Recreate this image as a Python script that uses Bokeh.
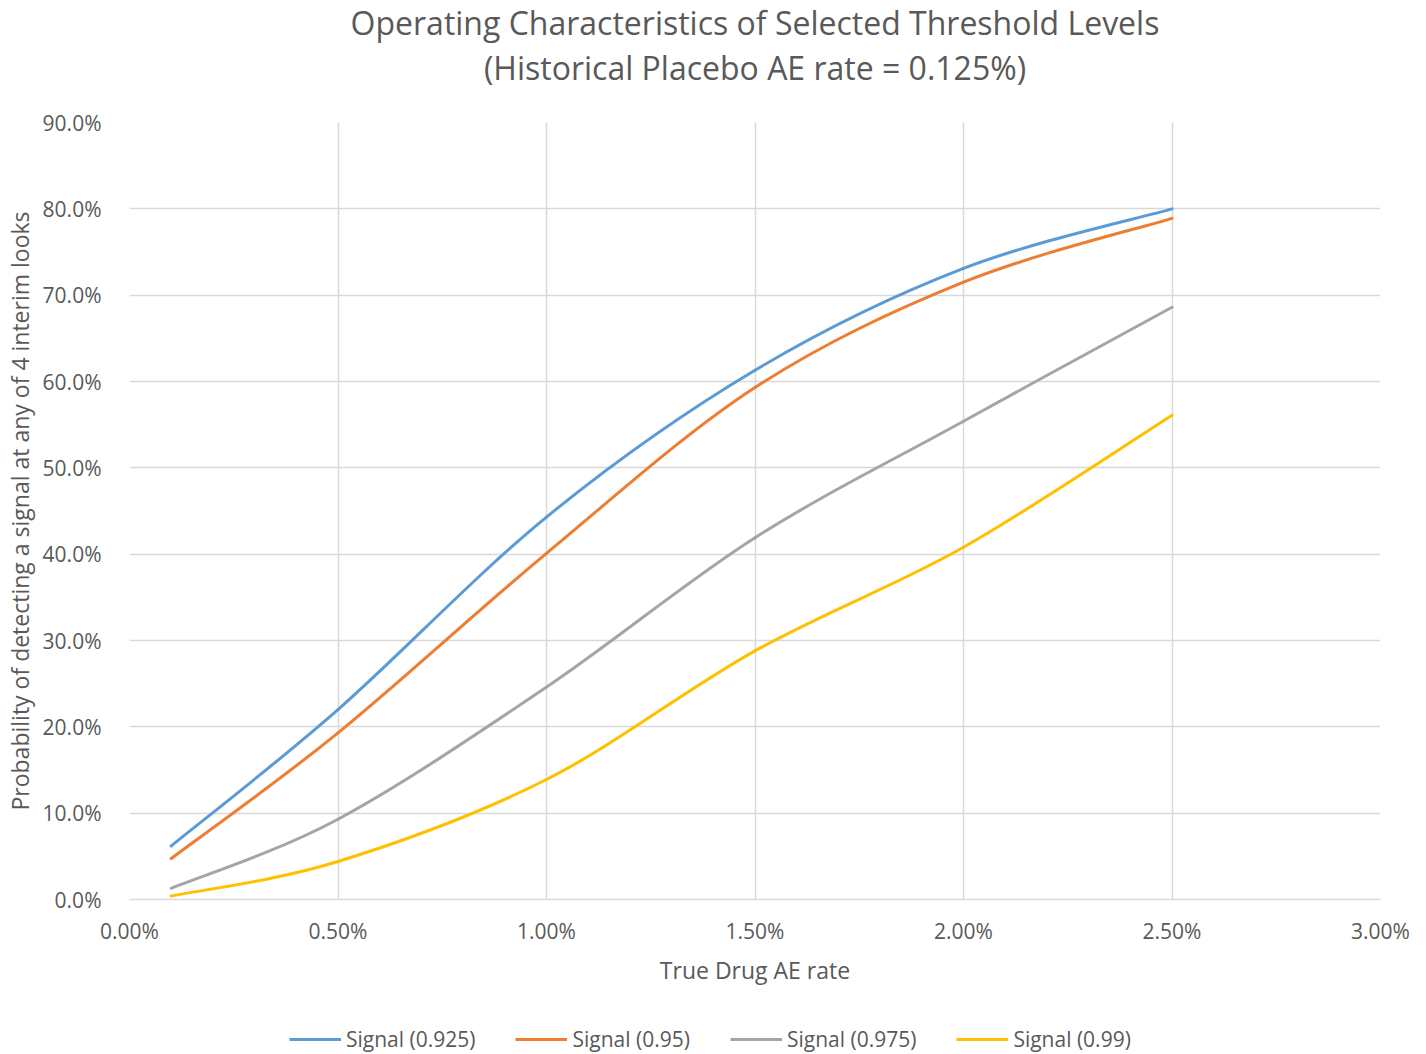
from bokeh.plotting import figure
from bokeh.layouts import column
from bokeh.models import (FixedTicker, NumeralTickFormatter, Legend, LegendItem, Title,
                          ColumnDataSource)
from bokeh.embed import file_html
from bokeh.resources import INLINE

# ---- data (percent units) ----
drug_ae_rate = [0.10, 0.50, 1.00, 1.50, 2.00, 2.50]
signal_0925 = [6.2, 22.0, 44.3, 61.3, 73.1, 80.0]
signal_095 = [4.75, 19.3, 40.1, 59.3, 71.5, 78.9]
signal_0975 = [1.3, 9.3, 24.6, 41.9, 55.4, 68.6]
signal_099 = [0.4, 4.4, 13.9, 28.8, 40.8, 56.1]
series_names = ["Signal (0.925)", "Signal (0.95)", "Signal (0.975)", "Signal (0.99)"]
x_ticks = [0.0, 0.5, 1.0, 1.5, 2.0, 2.5, 3.0]
y_ticks = [0, 10, 20, 30, 40, 50, 60, 70, 80, 90]
title_lines = ["Operating Characteristics of Selected Threshold Levels",
               "(Historical Placebo AE rate = 0.125%)"]

colors = ["#5B9BD5", "#ED7D31", "#A5A5A5", "#FFC000"]
FONT = "Open Sans"
TXT = "#595959"
GRID = "#D9D9D9"

FW, FH = 1251, 777
p = figure(frame_width=FW, frame_height=FH, output_backend="svg", toolbar_location=None,
           x_range=(0, 0.03), y_range=(0, 0.9),
           min_border_left=124, min_border_right=37, min_border_top=10, min_border_bottom=0)
p.outline_line_color = None
p.background_fill_color = "white"
p.border_fill_color = "white"


def smooth_segments(xs, ys):
    """Bezier segments through the data points (Excel-style smoothed line)."""
    n = len(xs)
    seg = dict(x0=[], y0=[], x1=[], y1=[], cx0=[], cy0=[], cx1=[], cy1=[])
    for i in range(n - 1):
        xm, ym = (xs[i - 1], ys[i - 1]) if i > 0 else (xs[i], ys[i])
        xp, yp = (xs[i + 2], ys[i + 2]) if i + 2 < n else (xs[i + 1], ys[i + 1])
        seg["x0"].append(xs[i]); seg["y0"].append(ys[i])
        seg["x1"].append(xs[i + 1]); seg["y1"].append(ys[i + 1])
        seg["cx0"].append(xs[i] + (xs[i + 1] - xm) / 6)
        seg["cy0"].append(ys[i] + (ys[i + 1] - ym) / 6)
        seg["cx1"].append(xs[i + 1] - (xp - xs[i]) / 6)
        seg["cy1"].append(ys[i + 1] - (yp - ys[i]) / 6)
    return seg


xv = [v / 100 for v in drug_ae_rate]
all_series = [signal_0925, signal_095, signal_0975, signal_099]
for ser, c in zip(all_series, colors):
    yv = [v / 100 for v in ser]
    p.bezier("x0", "y0", "x1", "y1", "cx0", "cy0", "cx1", "cy1",
             source=ColumnDataSource(smooth_segments(xv, yv)),
             line_color=c, line_width=3, line_cap="round")

# axes
p.xaxis.ticker = FixedTicker(ticks=[t / 100 for t in x_ticks])
p.yaxis.ticker = FixedTicker(ticks=[t / 100 for t in y_ticks])
p.xaxis.formatter = NumeralTickFormatter(format="0.00%")
p.yaxis.formatter = NumeralTickFormatter(format="0.0%")
for ax in (p.xaxis, p.yaxis):
    ax.major_tick_line_color = None
    ax.minor_tick_line_color = None
    ax.major_label_text_font = FONT
    ax.major_label_text_font_size = "21px"
    ax.major_label_text_color = TXT
    ax.axis_label_text_font = FONT
    ax.axis_label_text_font_size = "23px"
    ax.axis_label_text_font_style = "normal"
    ax.axis_label_text_color = TXT
p.yaxis.axis_line_color = None
p.xaxis.axis_line_color = GRID
p.xaxis.axis_line_width = 1.5
p.xaxis.axis_label = "True Drug AE rate"
p.yaxis.axis_label = "Probability of detecting a signal at any of 4 interim looks"
p.xaxis.major_label_standoff = 11
p.xaxis.axis_label_standoff = 6
p.yaxis.major_label_standoff = 22
p.yaxis.axis_label_standoff = 4

p.xgrid.grid_line_color = GRID
p.ygrid.grid_line_color = GRID
p.xgrid.grid_line_width = 1.5
p.ygrid.grid_line_width = 1.5

# two-line title: spacer (next to frame), subtitle, main title on top
p.add_layout(Title(text=" ", text_font=FONT, text_font_size="10px", standoff=15), "above")
p.add_layout(Title(text=title_lines[1], align="center", text_font=FONT, text_font_size="32px",
                   text_font_style="normal", text_color=TXT, standoff=5), "above")
p.add_layout(Title(text=title_lines[0], align="center", text_font=FONT, text_font_size="32px",
                   text_font_style="normal", text_color=TXT, standoff=-4), "above")

# legend in its own strip below the chart (series lines fall outside its view,
# only their legend swatches show)
leg = figure(width=1410, height=70, output_backend="svg", toolbar_location=None,
             x_range=(0, 1), y_range=(-2, -1), x_axis_type=None, y_axis_type=None,
             min_border=0)
leg.outline_line_color = None
leg.xgrid.visible = False
leg.ygrid.visible = False
items = []
for name, ser, c in zip(series_names, all_series, colors):
    lr = leg.line(x=xv, y=[v / 100 for v in ser], line_color=c, line_width=3)
    items.append(LegendItem(label=name, renderers=[lr]))
legend = Legend(items=items, orientation="horizontal", location=(160, 5),
                label_text_font=FONT, label_text_font_size="21px", label_text_color=TXT,
                glyph_width=52, glyph_height=24, label_standoff=5, spacing=40,
                border_line_color=None, background_fill_alpha=0, margin=0, padding=0)
leg.add_layout(legend, "center")

layout = column(p, leg, spacing=0)
open("out.html", "w").write(file_html(layout, INLINE))
